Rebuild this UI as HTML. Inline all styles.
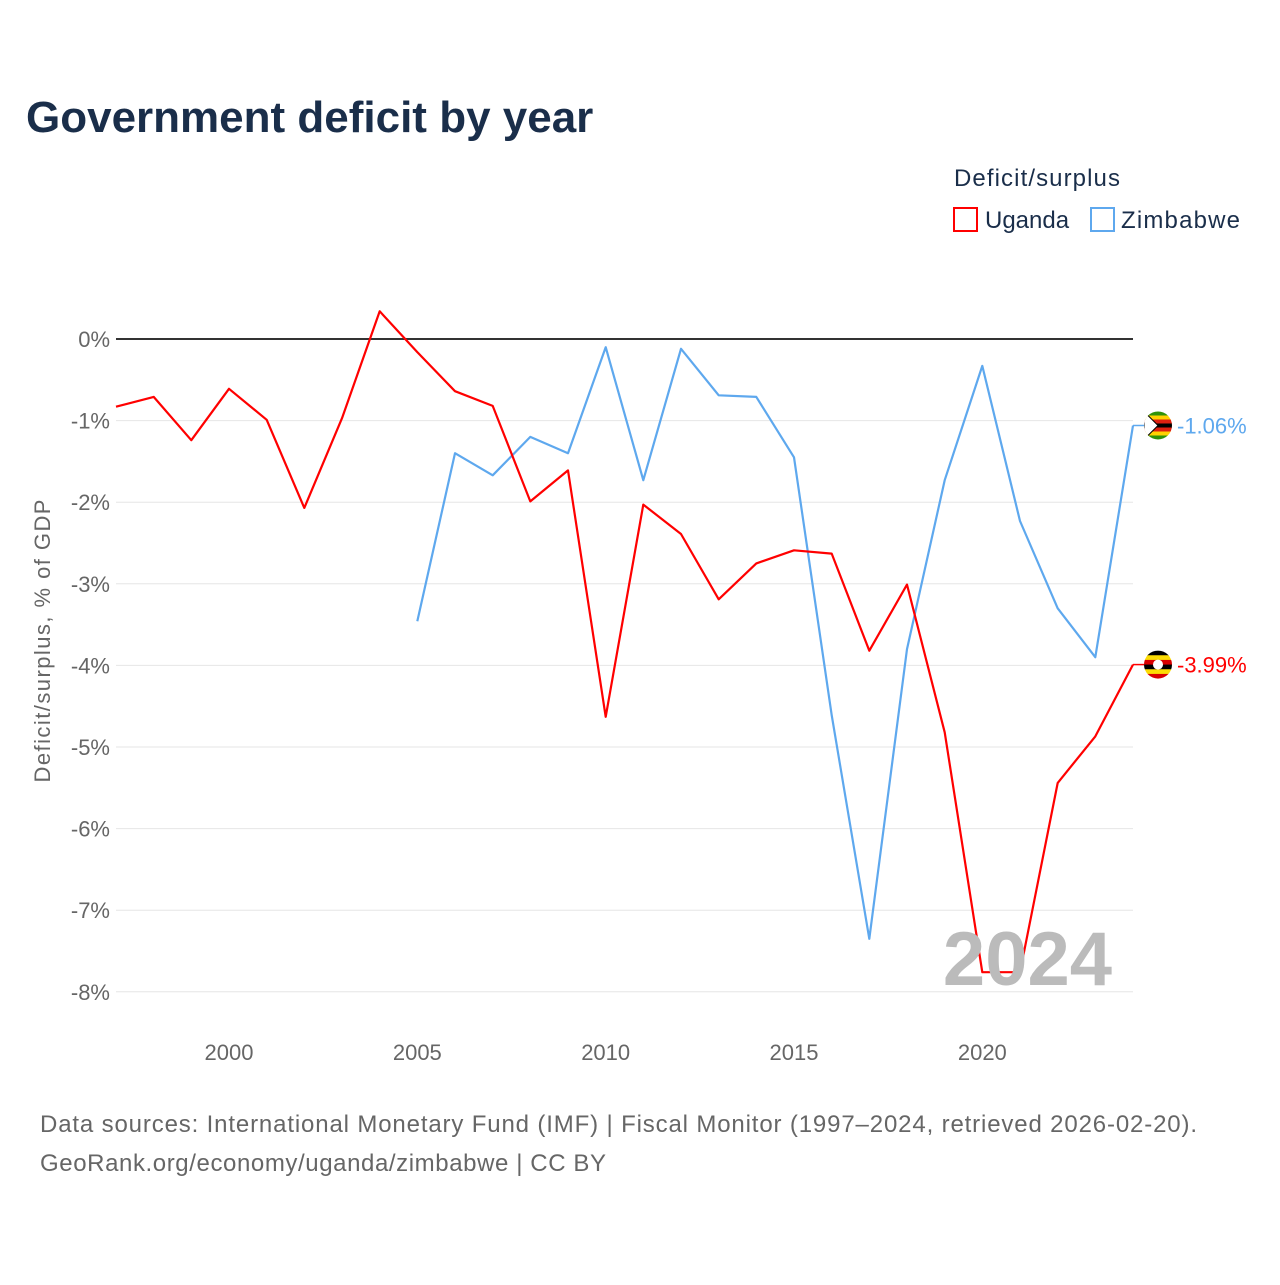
<!DOCTYPE html>
<html><head><meta charset="utf-8"><style>
body{margin:0;background:#fff;font-family:"Liberation Sans",sans-serif;}
</style></head><body>
<svg id="chart" width="1280" height="1280" viewBox="0 0 1280 1280" xmlns="http://www.w3.org/2000/svg" font-family="Liberation Sans, sans-serif">
<rect width="1280" height="1280" fill="#fff"/>
<text x="26" y="132" font-size="44" font-weight="bold" fill="#1a2e4a">Government deficit by year</text>
<text x="954" y="186" font-size="24" fill="#1a2e4a" textLength="166">Deficit/surplus</text>
<g><rect x="954" y="208" width="23" height="23" fill="none" stroke="#f00" stroke-width="2"/><text x="985" y="228" font-size="24" fill="#1a2e4a">Uganda</text></g>
<g><rect x="1091" y="208" width="23" height="23" fill="none" stroke="#5ea8ee" stroke-width="2"/><text x="1121" y="228" font-size="24" fill="#1a2e4a" textLength="119">Zimbabwe</text></g>
<text transform="translate(50,641) rotate(-90)" text-anchor="middle" font-size="22" fill="#666" textLength="283">Deficit/surplus, % of GDP</text>
<g id="grid"></g><g id="series"></g>
<text x="1112" y="985" text-anchor="end" font-size="76" font-weight="bold" fill="#bbb">2024</text>
<text x="40" y="1132" font-size="24" fill="#666" textLength="1157">Data sources: International Monetary Fund (IMF) | Fiscal Monitor (1997–2024, retrieved 2026-02-20).</text>
<text x="40" y="1171" font-size="24" fill="#666" textLength="566">GeoRank.org/economy/uganda/zimbabwe | CC BY</text>
</svg>
<script>
const years=[1997,1998,1999,2000,2001,2002,2003,2004,2005,2006,2007,2008,2009,2010,2011,2012,2013,2014,2015,2016,2017,2018,2019,2020,2021,2022,2023,2024];
const uganda=[-0.83,-0.71,-1.24,-0.61,-0.99,-2.07,-0.97,0.34,-0.16,-0.64,-0.82,-1.99,-1.61,-4.63,-2.03,-2.39,-3.19,-2.75,-2.59,-2.63,-3.82,-3.01,-4.82,-7.76,-7.76,-5.44,-4.87,-3.99];
const zimbabwe=[null,null,null,null,null,null,null,null,-3.46,-1.40,-1.67,-1.20,-1.40,-0.10,-1.73,-0.12,-0.69,-0.71,-1.45,-4.61,-7.35,-3.80,-1.73,-0.33,-2.23,-3.30,-3.90,-1.06];
const yTicks=[0,-1,-2,-3,-4,-5,-6,-7,-8];
const xTicks=[2000,2005,2010,2015,2020];
const NS="http://www.w3.org/2000/svg";
const x=v=>116+(v-1997)*(1133-116)/27;
const y=v=>339-v*81.6;
function mk(t,a,p){const e=document.createElementNS(NS,t);for(const k in a)e.setAttribute(k,a[k]);p.appendChild(e);return e;}
const g=document.getElementById('grid'),s=document.getElementById('series');
yTicks.forEach(t=>{
 const l=mk('line',{x1:116,x2:1133,y1:y(t),y2:y(t),stroke:t===0?'#333':'#e6e6e6','stroke-width':t===0?2:1},g);
 
 
 const tx=mk('text',{x:110,y:y(t)+8,'text-anchor':'end','font-size':22,fill:'#666'},g);tx.textContent=t+'%';
 
 
});
xTicks.forEach(t=>{
 const tx=mk('text',{x:x(t),y:1060,'text-anchor':'middle','font-size':22,fill:'#666'},g);tx.textContent=t;
 
 
});
function line(vals,color,name){
 let d='';vals.forEach((v,i)=>{if(v===null)return;d+=(d?'L':'M')+x(years[i]).toFixed(1)+','+y(v).toFixed(1);});
 const p=mk('path',{d,fill:'none',stroke:color,'stroke-width':2.2,'stroke-linejoin':'round'},s);
 
 
}
line(zimbabwe,'#5ea8ee','zimbabwe-line');
line(uganda,'#f00','uganda-line');
function endLabel(vals,color,name,stripes){
 const v=vals[vals.length-1],cx=1158,cy=y(v);
 const gg=mk('g',{},s);
 
 
 mk('line',{x1:x(2024),x2:cx-14,y1:cy,y2:cy,stroke:color,'stroke-width':1.5},gg);
 const cp=mk('clipPath',{id:'c'+name},gg);mk('circle',{cx,cy,r:14},cp);
 const fg=mk('g',{'clip-path':'url(#c'+name+')'},gg);
 const h=28/stripes.length;
 stripes.forEach((c,i)=>mk('rect',{x:cx-14,y:cy-14+i*h,width:28,height:h+0.5,fill:c},fg));
 if(name==='zimbabwe')mk('path',{d:`M${cx-14},${cy-14} L${cx},${cy} L${cx-14},${cy+14}Z`,fill:'#fff',stroke:'#000'},fg);
 else mk('circle',{cx,cy,r:5,fill:'#fff'},fg);
 const t=mk('text',{x:1177,y:cy+8,'font-size':22,fill:color},gg);t.textContent=v.toFixed(2)+'%';
}
endLabel(zimbabwe,'#5ea8ee','zimbabwe',['#319208','#ffd200','#de2010','#000','#de2010','#ffd200','#319208']);
endLabel(uganda,'#f00','uganda',['#000','#fcdc04','#d90000','#000','#fcdc04','#d90000']);
</script>
</body></html>
